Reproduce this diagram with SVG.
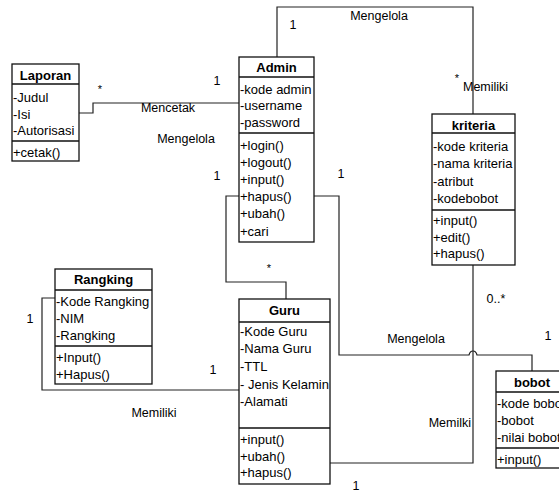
<svg xmlns="http://www.w3.org/2000/svg" width="559" height="492" viewBox="0 0 559 492">
<style>
.box{fill:#fff;stroke:#111;stroke-width:1.3}
.ln{fill:none;stroke:#111;stroke-width:1.3}
.conn{fill:none;stroke:#222;stroke-width:1.2}
text{font-family:"Liberation Sans",Arial,sans-serif;fill:#000}
.t{font-size:13px}
.h{font-size:13px;font-weight:bold;text-anchor:middle}
.lb{font-size:12.5px}
.m{font-size:12.5px;text-anchor:middle}
.st{font-size:11px;text-anchor:middle}
</style>
<rect width="559" height="492" fill="#fff"/>
<g id="connectors">
<path class="conn" d="M79 113 H93 V103 H239"/>
<path class="conn" d="M277 57 V7 H473 V114"/>
<path class="conn" d="M239 196 H226 V282 H286 V299"/>
<path class="conn" d="M314 196 H339 V355 H469 Q470 351 473 351 Q476 351 477 355 H532 V371"/>
<path class="conn" d="M473 265 V463 H330"/>
<path class="conn" d="M55 298 H42 V390 H239"/>
</g>
<g id="laporan">
<rect class="box" x="12" y="64" width="67" height="97"/>
<path class="ln" d="M12 84 H79 M12 141 H79"/>
<text class="h" x="45.5" y="79.5">Laporan</text>
<text class="t" x="13" y="101.5">-Judul</text>
<text class="t" x="13" y="118.5">-Isi</text>
<text class="t" x="13" y="134.5">-Autorisasi</text>
<text class="t" x="13" y="156.5">+cetak()</text>
</g>
<g id="admin">
<rect class="box" x="239" y="57" width="75" height="185"/>
<path class="ln" d="M239 77 H314 M239 133 H314"/>
<text class="h" x="276.5" y="71.5">Admin</text>
<text class="t" x="240" y="93.5">-kode admin</text>
<text class="t" x="240" y="110">-username</text>
<text class="t" x="240" y="126.5">-password</text>
<text class="t" x="240" y="149.5">+login()</text>
<text class="t" x="240" y="166.5">+logout()</text>
<text class="t" x="240" y="184">+input()</text>
<text class="t" x="240" y="201">+hapus()</text>
<text class="t" x="240" y="218">+ubah()</text>
<text class="t" x="240" y="235.5">+cari</text>
</g>
<g id="kriteria">
<rect class="box" x="432" y="114" width="83" height="151"/>
<path class="ln" d="M432 133 H515 M432 210 H515"/>
<text class="h" x="473.5" y="129.5">kriteria</text>
<text class="t" x="433" y="150.5">-kode kriteria</text>
<text class="t" x="433" y="168">-nama kriteria</text>
<text class="t" x="433" y="185.5">-atribut</text>
<text class="t" x="433" y="203">-kodebobot</text>
<text class="t" x="433" y="224.5">+input()</text>
<text class="t" x="433" y="241.5">+edit()</text>
<text class="t" x="433" y="258">+hapus()</text>
</g>
<g id="rangking">
<rect class="box" x="55" y="269" width="97" height="115"/>
<path class="ln" d="M55 290 H152 M55 346 H152"/>
<text class="h" x="103.5" y="284">Rangking</text>
<text class="t" x="56" y="305.5">-Kode Rangking</text>
<text class="t" x="56" y="322.5">-NIM</text>
<text class="t" x="56" y="339.5">-Rangking</text>
<text class="t" x="56" y="361.5">+Input()</text>
<text class="t" x="56" y="378.5">+Hapus()</text>
</g>
<g id="guru">
<rect class="box" x="239" y="299" width="91" height="185"/>
<path class="ln" d="M239 322 H330 M239 428 H330"/>
<text class="h" x="284.5" y="315">Guru</text>
<text class="t" x="240" y="335.5">-Kode Guru</text>
<text class="t" x="240" y="353">-Nama Guru</text>
<text class="t" x="240" y="370.5">-TTL</text>
<text class="t" x="240" y="388.5">- Jenis Kelamin</text>
<text class="t" x="240" y="405.5">-Alamati</text>
<text class="t" x="240" y="444">+input()</text>
<text class="t" x="240" y="460.5">+ubah()</text>
<text class="t" x="240" y="477">+hapus()</text>
</g>
<g id="bobot">
<rect class="box" x="496" y="371" width="72" height="97"/>
<path class="ln" d="M496 392 H568 M496 448 H568"/>
<text class="h" x="532" y="386.5">bobot</text>
<text class="t" x="497" y="407.5">-kode bobot</text>
<text class="t" x="497" y="424.5">-bobot</text>
<text class="t" x="497" y="441.5">-nilai bobot</text>
<text class="t" x="497" y="463.5">+input()</text>
</g>
<g id="labels">
<text class="st" x="100" y="93">*</text>
<text class="m" x="217" y="84.5">1</text>
<text class="m" x="168" y="111.5">Mencetak</text>
<text class="m" x="186" y="142.5">Mengelola</text>
<text class="m" x="217" y="179.5">1</text>
<text class="m" x="293" y="28.5">1</text>
<text class="m" x="379" y="19.5">Mengelola</text>
<text class="st" x="457" y="82">*</text>
<text class="lb" x="463" y="90.5">Memiliki</text>
<text class="m" x="341" y="177.5">1</text>
<text class="st" x="269" y="272">*</text>
<text class="m" x="30" y="322.5">1</text>
<text class="m" x="213" y="373.5">1</text>
<text class="m" x="154" y="416.5">Memiliki</text>
<text class="m" x="496" y="302.5">0..*</text>
<text class="m" x="416" y="342.5">Mengelola</text>
<text class="m" x="548" y="339.5">1</text>
<text class="lb" x="471" y="426.5" text-anchor="end">Memilki</text>
<text class="m" x="356" y="490">1</text>
</g>
</svg>
